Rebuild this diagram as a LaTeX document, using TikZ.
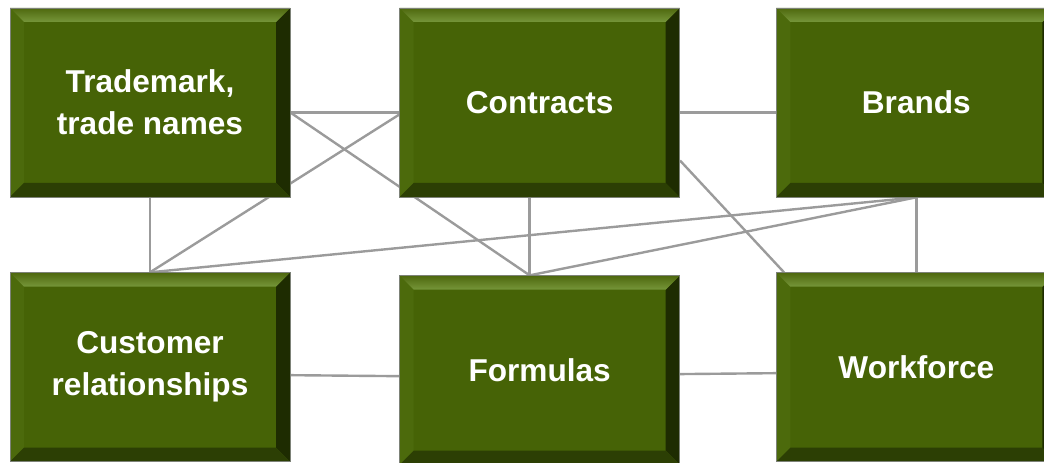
\documentclass[tikz,border=0pt]{standalone}
\usepackage{fontspec}
\setmainfont{Liberation Sans}
\usetikzlibrary{positioning}
\pgfdeclarelayer{background}
\pgfsetlayers{background,main}

\definecolor{boxface}{RGB}{70,99,6}
\definecolor{boxedge}{RGB}{125,130,120}
\definecolor{bevtopout}{RGB}{78,104,14}
\definecolor{bevtopin}{RGB}{118,150,58}
\definecolor{bevleft}{RGB}{76,106,12}
\definecolor{bevright}{RGB}{30,44,1}
\definecolor{bevbottom}{RGB}{44,63,4}
\definecolor{linkgray}{RGB}{155,155,155}
\newcommand{\bevw}{10.5pt}

\begin{document}
\begin{tikzpicture}[x=0.75pt,y=-0.75pt,
  asset/.style={rectangle,draw=boxedge,line width=0.5pt,fill=boxface,text=white,
    font=\fontsize{23.7}{31.5}\selectfont\bfseries,align=center,inner sep=0pt,
    minimum width=210pt,minimum height=141.75pt,
    path picture={
      \coordinate (nw) at (path picture bounding box.north west);
      \coordinate (ne) at (path picture bounding box.north east);
      \coordinate (sw) at (path picture bounding box.south west);
      \coordinate (se) at (path picture bounding box.south east);
      \fill[bevleft] (nw) -- ([shift={(\bevw,-\bevw)}]nw) -- ([shift={(\bevw,\bevw)}]sw) -- (sw) -- cycle;
      \fill[bevright] (ne) -- ([shift={(-\bevw,-\bevw)}]ne) -- ([shift={(-\bevw,\bevw)}]se) -- (se) -- cycle;
      \fill[bevbottom] (sw) -- ([shift={(\bevw,\bevw)}]sw) -- ([shift={(-\bevw,\bevw)}]se) -- (se) -- cycle;
      \shade[top color=bevtopout,bottom color=bevtopin] (nw) -- (ne) -- ([shift={(-\bevw,-\bevw)}]ne) -- ([shift={(\bevw,-\bevw)}]nw) -- cycle;
    }},
  link/.style={color=linkgray,line width=1.8pt}]

  \useasboundingbox (0,0) rectangle (1044,463);

  \node[asset] (trade) at (150,102.5) {Trademark,\\trade names};
  \node[asset, right=81.75pt of trade] (contracts) {Contracts};
  \node[asset, right=72pt of contracts] (brands) {Brands};
  \node[asset, below=56.25pt of trade] (customer) {Customer\\relationships};
  \node[asset, below=58.5pt of contracts] (formulas) {Formulas};
  \node[asset, below=56.25pt of brands] (workforce) {Workforce};

  \begin{pgfonlayer}{background}
    \path[link]
      ([shift={(0,10)}]trade.east) edge ([shift={(0,10)}]contracts.west)
      ([shift={(0,10)}]trade.east) edge ([shift={(-10,0)}]formulas.north)
      ([shift={(0,12)}]contracts.west) edge (customer.north)
      (trade.south) edge (customer.north)
      ([shift={(0,10)}]contracts.east) edge ([shift={(0,10)}]brands.west)
      ([shift={(0,58)}]contracts.east) edge ([shift={(8,0)}]workforce.north west)
      ([shift={(-10,0)}]contracts.south) edge ([shift={(-10,0)}]formulas.north)
      (brands.south) edge (customer.north)
      (brands.south) edge ([shift={(-10,0)}]formulas.north)
      (brands.south) edge (workforce.north)
      ([shift={(0,8)}]customer.east) edge ([shift={(0,6)}]formulas.west)
      ([shift={(-8,4)}]formulas.east) edge ([shift={(0,6)}]workforce.west)
      ;
  \end{pgfonlayer}
\end{tikzpicture}
\end{document}
